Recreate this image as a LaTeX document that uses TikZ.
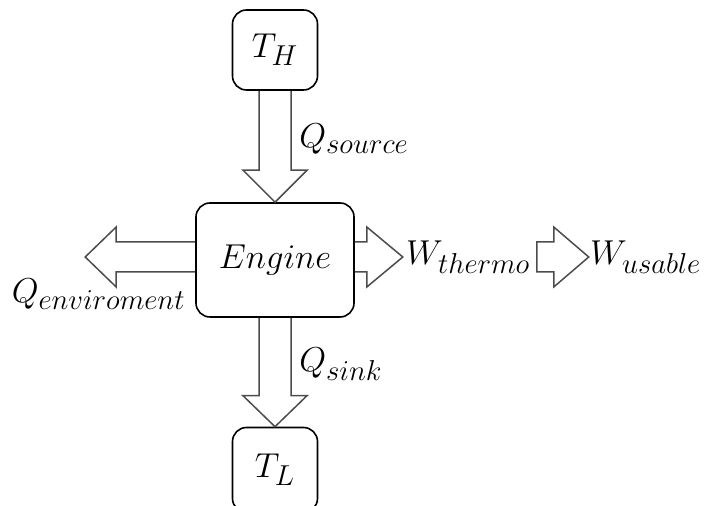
\documentclass[tikz,border=0pt]{standalone}
\usetikzlibrary{calc}
\DeclareMathSizes{17.28}{17.28}{14.4}{12}
\begin{document}
\begin{tikzpicture}[
  x=0.5pt, y=-0.5pt,
  font=\fontsize{17.28}{20}\selectfont,
  box/.style={draw,line width=0.8pt,rounded corners=7pt,inner sep=0pt},
  fat/.style={draw=black!70,line width=0.75pt,line join=miter},
  lbl/.style={inner sep=0pt}
]
\useasboundingbox (0,0) rectangle (712,506);

% Reservoirs and engine
\node[box,minimum width=42.5pt,minimum height=40pt] (TH)  at (275,50)  {$T_H$};
\node[box,minimum width=79pt,minimum height=57pt]   (eng) at (275,260) {$Engine$};
\node[box,minimum width=42.5pt,minimum height=42.5pt] (TL) at (275,470) {$T_L$};

% Heat from the hot source
\draw[fat] ($(TH.south)+(-16,0)$) -- ($(eng.north)+(-16,-32)$) -- ($(eng.north)+(-32,-32)$)
  -- (eng.north) -- ($(eng.north)+(32,-32)$) -- ($(eng.north)+(16,-32)$) -- ($(TH.south)+(16,0)$);
\node[lbl,anchor=base west] (Qsrc) at (299,148) {$Q_{source}$};

% Heat to the cold sink
\draw[fat] ($(eng.south)+(-16,0)$) -- ($(TL.north)+(-16,-31)$) -- ($(TL.north)+(-32,-31)$)
  -- (TL.north) -- ($(TL.north)+(32,-31)$) -- ($(TL.north)+(16,-31)$) -- ($(eng.south)+(16,0)$);
\node[lbl,anchor=base west] (Qsnk) at (299,372) {$Q_{sink}$};

% Heat lost to the environment
\coordinate (envtip) at ($(eng.west)+(-110,-3)$);
\draw[fat] ($(eng.west)+(0,-18)$) -- ($(envtip)+(31,-15)$) -- ($(envtip)+(31,-30)$)
  -- (envtip) -- ($(envtip)+(31,30)$) -- ($(envtip)+(31,15)$) -- ($(eng.west)+(0,12)$);
\node[lbl,anchor=base east] (Qenv) at (186,303) {$Q_{enviroment}$};

% Work out of the engine
\coordinate (wtip) at ($(eng.east)+(48,-3)$);
\draw[fat] ($(eng.east)+(0,-18)$) -- ($(wtip)+(-36,-15)$) -- ($(wtip)+(-36,-30)$)
  -- (wtip) -- ($(wtip)+(-36,30)$) -- ($(wtip)+(-36,15)$) -- ($(eng.east)+(0,12)$);
\node[lbl,anchor=base west] (Wth) at ($(wtip)+(3,8)$) {$W_{thermo}$};

% Usable work
\node[lbl,anchor=base west] (Wus) at ($(Wth.base east)+(59,0)$) {$W_{usable}$};
\draw[fat] ($(Wth.base east)+(6,-23)$) -- ++(17,0) -- ++(0,-15) -- ($(Wus.base west)+(-1,-8)$)
  -- ($(Wth.base east)+(23,22)$) -- ++(0,-15) -- ++(-17,0) -- cycle;
\end{tikzpicture}
\end{document}
